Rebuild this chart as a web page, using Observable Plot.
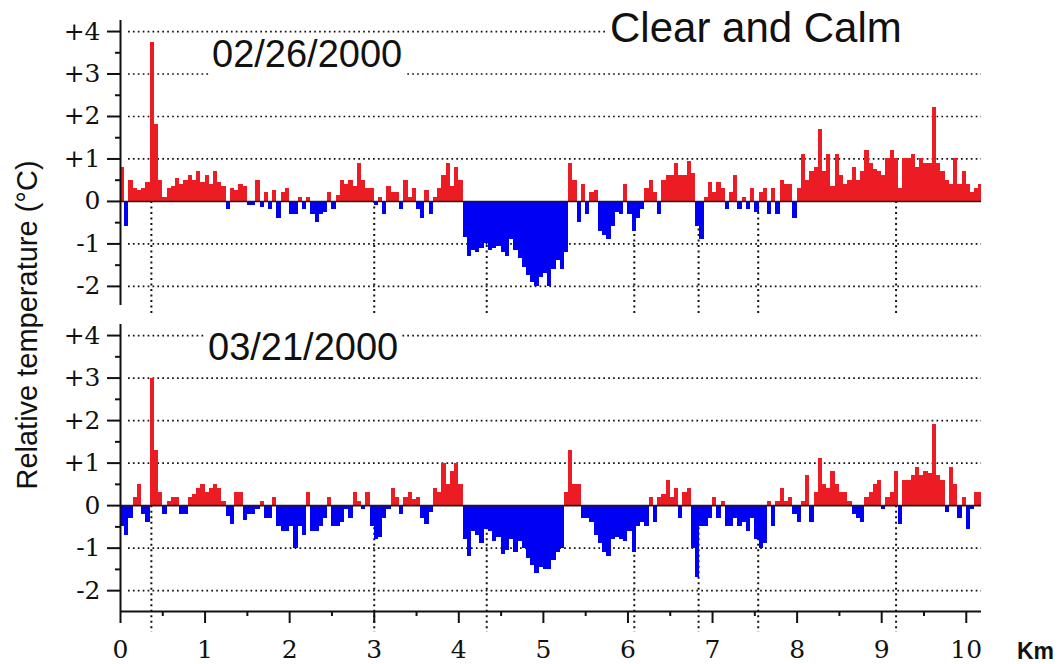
<!DOCTYPE html>
<html><head><meta charset="utf-8">
<script src="https://cdn.jsdelivr.net/npm/d3@7"></script>
<script src="https://cdn.jsdelivr.net/npm/@observablehq/plot@0.6"></script>
<style>
body{margin:0;background:#fff;}
#wrap{position:relative;width:1060px;height:664px;overflow:hidden;font-family:"Liberation Sans",Arial,sans-serif;}
#wrap svg{position:absolute;left:0;overflow:visible;}
.lbl{position:absolute;background:#fff;color:#111;white-space:nowrap;line-height:1;}
</style></head><body>
<div id="wrap"></div>
<script>
// distance step (km) of the profile samples and end of the traverse
const step = 0.05;
const xMax = 10.18;

// 02/26/2000 relative temperature (°C), one value per 0.05 km
const temp0226 = [0.8,-0.6,0.5,0.3,0.25,0.3,0.45,3.75,1.8,0.5,
0.1,0.3,0.35,0.55,0.4,0.5,0.6,0.5,0.7,0.45,
0.6,0.4,0.7,0.45,0.35,-0.2,0.3,0.25,0.4,0.35,
-0.1,-0.1,0.5,-0.15,0.2,-0.2,0.25,-0.4,0.2,0.3,
-0.3,-0.3,0.1,-0.2,0.1,-0.3,-0.5,-0.3,-0.25,0.2,
-0.2,0.15,0.5,0.4,0.5,0.35,0.9,0.5,0.3,0.3,
-0.1,0.1,-0.3,0.35,0.2,0.2,-0.2,0.5,0.1,0.3,
-0.2,-0.4,0.25,-0.3,0.1,0.3,0.6,0.9,0.35,0.8,
0.5,-0.85,-1.3,-1.15,-1.2,-1.1,-1.0,-1.15,-1.1,-1.05,
-1.2,-1.3,-0.9,-1.15,-1.35,-1.55,-1.75,-1.9,-2.0,-1.8,
-1.7,-2.0,-1.6,-1.4,-1.6,-1.2,0.9,0.5,-0.5,0.4,
-0.3,0.2,0.25,-0.7,-0.8,-0.9,-0.6,-0.25,-0.3,0.4,
-0.3,-0.7,-0.4,-0.2,0.3,0.5,0.2,-0.3,0.5,0.6,
0.6,0.9,0.6,0.6,0.95,0.65,-0.6,-0.9,0.1,0.45,
0.2,0.45,0.3,-0.2,0.2,0.6,-0.2,0.1,-0.2,0.3,
-0.25,0.2,0.3,-0.3,0.3,-0.3,0.5,0.4,0.4,-0.4,
0.3,1.1,0.5,0.7,0.8,1.7,0.7,1.1,0.35,1.1,
0.6,0.4,0.5,0.8,0.5,0.7,1.2,0.9,0.75,0.7,
0.6,1.0,1.2,1.0,0.3,1.0,1.0,1.1,0.8,1.0,
0.9,0.9,2.2,0.9,0.7,0.5,0.4,1.0,0.4,0.7,
0.4,0.2,0.3,0.4];

// 03/21/2000 relative temperature (°C), one value per 0.05 km
const temp0321 = [-0.5,-0.7,-0.3,0.2,0.5,-0.2,-0.4,3.0,1.3,0.3,
-0.2,0.1,0.2,0.2,-0.2,-0.2,0.2,0.25,0.4,0.5,
0.3,0.4,0.5,0.4,0.1,-0.25,-0.45,0.3,0.3,-0.35,
-0.2,-0.2,-0.1,0.1,-0.3,-0.3,0.2,-0.5,-0.6,-0.6,
-0.5,-1.0,-0.5,-0.7,0.3,-0.6,-0.6,-0.5,-0.3,0.2,
-0.5,-0.5,-0.4,-0.1,-0.3,0.3,0.1,-0.1,0.3,-0.5,
-0.8,-0.75,-0.3,-0.1,0.4,0.2,-0.2,0.2,0.3,0.15,
0.2,-0.3,-0.45,-0.15,0.4,0.3,1.0,0.5,0.8,1.0,
0.5,-0.8,-1.2,-0.6,-0.7,-0.9,-0.55,-0.6,-0.85,-0.75,
-1.15,-1.05,-0.8,-1.1,-0.85,-1.0,-1.25,-1.4,-1.6,-1.45,
-1.5,-1.5,-1.3,-1.1,-1.0,0.3,1.3,0.5,0.5,-0.3,
-0.3,-0.4,-0.7,-0.9,-1.1,-1.2,-0.8,-0.75,-0.8,-0.85,
-0.6,-1.1,-0.5,-0.4,-0.5,0.2,-0.4,0.2,0.25,0.6,
0.2,0.4,-0.3,0.3,0.4,-1.0,-1.7,-0.5,-0.5,-0.3,
0.2,-0.3,0.1,-0.5,-0.5,-0.3,-0.5,-0.4,-0.6,-0.3,
-0.8,-1.0,-0.9,0.1,-0.5,0.1,0.4,0.1,0.2,-0.2,
-0.4,0.1,0.7,-0.4,0.3,1.1,0.5,0.4,0.8,0.5,
0.3,0.3,0.1,-0.2,-0.3,-0.4,0.2,0.3,0.5,0.6,
-0.1,0.2,0.3,0.8,-0.45,0.6,0.6,0.7,0.9,0.7,
0.8,0.75,1.9,0.7,0.6,-0.15,0.9,0.5,-0.3,0.2,
-0.55,-0.1,0.3,0.3];

// reference positions (km) marked with dotted verticals
const markers = [0.365, 3.0, 4.33, 6.075, 6.835, 7.54, 9.17];
const yTicks = [-2, -1, 0, 1, 2, 3, 4];
const yMinorTicks = [-1.5, -0.5, 0.5, 1.5, 2.5, 3.5];
const gridLevels = [-2, -1, 1, 2, 3, 4];
const xTicks = [0, 1, 2, 3, 4, 5, 6, 7, 8, 9, 10];
const xMinorTicks = [0.5, 1.5, 2.5, 3.5, 4.5, 5.5, 6.5, 7.5, 8.5, 9.5];
const dates = ["02/26/2000", "03/21/2000"];
const title = "Clear and Calm";
const yTitle = "Relative temperature (°C)";
const xUnit = "Km";

const RED = "#ec1c24", BLUE = "#0000f2", INK = "#111";
const SERIF = '"DejaVu Serif", "Liberation Serif", serif';

function rowsOf(vals) {
  return vals.map((v, i) => ({x1: i * step, x2: Math.min((i + 1) * step, xMax), v}));
}

function panel(vals, {height, marginTop, marginBottom, yDomain, showX, markerExtend}) {
  const rows = rowsOf(vals);
  const marks = [
    Plot.ruleY(gridLevels, {stroke: INK, strokeWidth: 1.7, strokeDasharray: "1.7,3.2", insetLeft: 8}),
    Plot.ruleX(markers, {y1: 0, y2: yDomain[0], insetBottom: -markerExtend, stroke: INK, strokeWidth: 2, strokeDasharray: "2,3.5"}),
    Plot.rectY(rows, {filter: d => d.v >= 0, x1: "x1", x2: "x2", y1: 0, y2: "v", fill: RED, shapeRendering: "crispEdges"}),
    Plot.rectY(rows, {filter: d => d.v < 0, x1: "x1", x2: "x2", y1: 0, y2: "v", fill: BLUE, shapeRendering: "crispEdges"}),
    Plot.ruleY([0], {stroke: "#2a1616", strokeWidth: 1.6}),
    Plot.ruleX([0], {stroke: INK, strokeWidth: 2}),
    Plot.axisY(yTicks, {label: null, tickSize: 13, tickPadding: 7, strokeWidth: 2, fontSize: 25,
      tickFormat: d => d > 0 ? "+" + d : String(d)}),
    Plot.axisY(yMinorTicks, {label: null, tickSize: 5, strokeWidth: 2, tickFormat: () => ""})
  ];
  if (showX) {
    marks.push(
      Plot.ruleY([yDomain[0]], {stroke: INK, strokeWidth: 2}),
      Plot.axisX(xTicks, {label: null, anchor: "bottom", tickSize: 12, tickPadding: 17, strokeWidth: 2, fontSize: 25,
        tickFormat: d => String(d)}),
      Plot.axisX(xMinorTicks, {label: null, anchor: "bottom", tickSize: 5, strokeWidth: 2, tickFormat: () => ""})
    );
  }
  const svg = Plot.plot({
    width: 1060, height, marginLeft: 120, marginRight: 79, marginTop, marginBottom,
    x: {domain: [0, xMax], axis: null},
    y: {domain: yDomain, axis: null},
    style: {background: "none", color: INK},
    marks
  });
  d3.select(svg).selectAll("text")
    .style("font-size", "25px")
    .style("font-family", SERIF)
    .style("fill", INK);
  return svg;
}

const wrap = document.getElementById("wrap");
const p1 = panel(temp0226, {height: 320, marginTop: 20, marginBottom: 15, yDomain: [-2.45, 4.26], showX: false, markerExtend: 8});
p1.style.top = "0px";
const p2 = panel(temp0321, {height: 354, marginTop: 14, marginBottom: 53, yDomain: [-2.49, 4.26], showX: true, markerExtend: 21});
p2.style.top = "310px";
wrap.appendChild(p1);
wrap.appendChild(p2);

function label(text, css) {
  const d = document.createElement("div");
  d.className = "lbl";
  d.textContent = text;
  Object.assign(d.style, css);
  wrap.appendChild(d);
  return d;
}
label(title, {left: "605px", top: "7px", fontSize: "42px", padding: "0 90px 2px 5px"});
label(dates[0], {left: "210px", top: "35px", fontSize: "38px", padding: "0 2px 4px 2px"});
label(dates[1], {left: "205px", top: "328px", fontSize: "38px", padding: "0 2px 2px 3px"});
label(yTitle, {left: "27px", top: "325px", fontSize: "29px", background: "none",
  transform: "translate(-50%,-50%) rotate(-90deg)"});
label(xUnit, {left: "1017px", top: "640px", fontSize: "23px", fontWeight: "bold", background: "none"});
</script>
</body></html>
